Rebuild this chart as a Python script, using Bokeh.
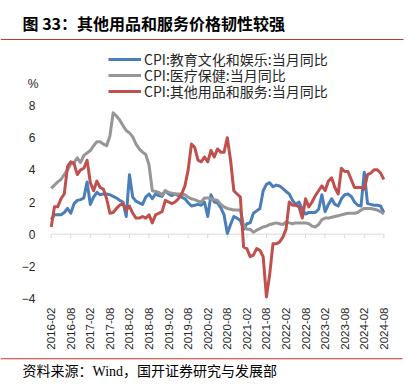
import pandas as pd
from math import pi
from bokeh.plotting import figure
from bokeh.models import (Range1d, FixedTicker, Legend, LegendItem, Label, BoxAnnotation,
                          ColumnDataSource, LinearAxis)
from bokeh.embed import file_html
from bokeh.resources import INLINE

# ---------------- data ----------------
months = [d.strftime("%Y-%m") for d in pd.date_range("2016-02-01", "2024-08-01", freq="MS")]

blue = [0.9, 1.2, 1.2, 1.2, 1.35, 1.6, 1.3, 1.9, 2.1, 2.15,
        2.25, 3.25, 1.85, 2.3, 2.6, 2.45, 2.5, 2.5, 2.45, 2.35,
        2.25, 2.1, 2.0, 1.1, 3.7, 2.3, 2.05, 1.95, 1.85, 2.3,
        2.5, 2.2, 2.5, 2.4, 2.35, 2.7, 2.5, 2.4, 2.5, 2.4,
        2.3, 2.2, 1.95, 1.75, 1.8, 1.85, 1.8, 2.0, 1.1, 2.45,
        2.0, 1.95, 1.65, 1.2, 0.05, 0.6, 1.1, 1.0, 0.85, 0.3,
        0.65, 0.7, 1.3, 1.45, 1.6, 2.7, 3.1, 3.2, 2.95, 3.05,
        3.0, 2.85, 2.65, 2.5, 2.1, 1.85, 2.0, 1.55, 1.25, 1.35,
        1.35, 1.35, 1.55, 2.45, 1.4, 1.85, 2.2, 1.85, 1.75, 2.2,
        2.45, 2.5, 2.35, 2.0, 1.8, 1.75, 3.85, 1.9, 1.85, 1.8,
        1.8, 1.75, 1.35]

gray = [2.85, 3.05, 3.25, 3.4, 3.7, 4.0, 4.35, 4.45, 4.75, 4.45,
        4.9, 5.05, 5.2, 5.5, 5.75, 5.75, 5.6, 5.5, 6.1, 7.55,
        7.35, 7.1, 6.75, 6.45, 6.3, 6.05, 5.6, 5.3, 5.1, 4.95,
        4.3, 2.7, 2.65, 2.6, 2.45, 2.7, 2.6, 2.55, 2.5, 2.5,
        2.5, 2.45, 2.3, 2.2, 2.15, 2.05, 2.0, 2.25, 2.25, 2.2,
        2.15, 2.1, 1.85, 1.7, 1.6, 1.55, 1.5, 1.5, 1.5, 0.55,
        0.3, 0.3, 0.12, 0.25, 0.35, 0.45, 0.5, 0.6, 0.65, 0.7,
        0.65, 0.6, 0.75, 0.7, 0.65, 0.7, 0.7, 0.7, 0.7, 0.65,
        0.5, 0.45, 0.6, 0.9, 1.0, 1.0, 1.05, 1.1, 1.15, 1.2,
        1.25, 1.3, 1.3, 1.3, 1.35, 1.5, 1.6, 1.6, 1.6, 1.55,
        1.5, 1.4, 1.25]

red = [0.45, 1.7, 1.7, 2.2, 2.5, 4.2, 4.5, 4.4, 3.7, 4.0,
       4.1, 4.6, 3.2, 2.7, 3.3, 2.9, 2.8, 2.2, 1.3, 1.35,
       1.6, 1.8, 1.9, 1.5, 1.75, 1.3, 1.0, 1.0, 1.1, 1.0,
       1.2, 0.7, 1.2, 1.3, 1.4, 2.1, 2.0, 1.9, 2.0, 2.2,
       2.5, 3.0, 4.0, 5.6, 5.4, 4.6, 4.5, 4.8, 4.5, 5.2,
       4.8, 5.3, 5.1, 5.1, 6.0, 4.6, 2.7, 2.5, 2.3, -0.8,
       -0.9, -1.4, -1.3, -0.9, -1.0, -1.4, -3.9, -2.5, -0.6, -0.6,
       -0.5, -0.2, 0.3, 2.0, 1.8, 1.8, 1.7, 1.0, 2.2, 1.7,
       2.0, 2.4, 2.7, 3.0, 2.7, 3.3, 3.5, 2.9, 2.5, 4.1,
       3.9, 3.9, 3.4, 2.9, 2.9, 2.9, 2.8, 3.7, 3.8, 4.0,
       4.0, 3.8, 3.4]

series_names = ["CPI:教育文化和娱乐:当月同比", "CPI:医疗保健:当月同比", "CPI:其他用品和服务:当月同比"]
tick_labels = ["2016-02", "2016-08", "2017-02", "2017-08", "2018-02", "2018-08",
               "2019-02", "2019-08", "2020-02", "2020-08", "2021-02", "2021-08",
               "2022-02", "2022-08", "2023-02", "2023-08", "2024-02", "2024-08"]
y_ticks = [-4, -2, 0, 2, 4, 6, 8]

title_text = "图 33：其他用品和服务价格韧性较强"
source_text = "资料来源：Wind，国开证券研究与发展部"

# ---------------- figure ----------------
W, H = 409, 387
x = list(range(len(months)))
tick_idx = [months.index(t) for t in tick_labels]

CJK = "Noto Sans CJK SC"
p = figure(width=W, height=H, output_backend="svg", toolbar_location=None,
           x_range=Range1d(-15.55, 109.87), y_range=Range1d(-9.535, 14.53),
           x_axis_location=None, y_axis_location=None,
           min_border=0, min_border_left=0, min_border_right=0,
           min_border_top=0, min_border_bottom=0)
p.outline_line_color = None
p.grid.visible = False
p.background_fill_color = "white"
p.border_fill_color = "white"

# y axis (placed inside the frame at a fixed location)
yax = LinearAxis(fixed_location=-3.28, ticker=FixedTicker(ticks=y_ticks))
yax.axis_line_color = None
yax.major_tick_line_color = None
yax.minor_tick_line_color = None
yax.major_tick_out = 0
yax.major_label_standoff = 5
yax.major_label_text_font = "Liberation Sans"
yax.major_label_text_font_size = "12px"
yax.major_label_text_color = "#262626"
p.add_layout(yax, "left")

# x axis labels (bottom)
xax = LinearAxis(fixed_location=-4.249, ticker=FixedTicker(ticks=tick_idx))
xax.major_label_overrides = {i: t for i, t in zip(tick_idx, tick_labels)}
xax.axis_line_color = None
xax.major_tick_line_color = None
xax.minor_tick_line_color = None
xax.major_tick_out = 0
xax.major_label_standoff = 5
xax.major_label_orientation = pi / 2
xax.major_label_text_font = "Liberation Sans"
xax.major_label_text_font_size = "11.5px"
xax.major_label_text_color = "#262626"
p.add_layout(xax, "below")

# zero line with small tick marks
p.segment(x0=[x[0]], y0=[0], x1=[x[-1]], y1=[0], line_color="#D9D9D9", line_width=1)
p.segment(x0=tick_idx, y0=[0] * len(tick_idx), x1=tick_idx, y1=[-0.25] * len(tick_idx),
          line_color="#D9D9D9", line_width=1)

colors = ["#4A7EBB", "#969696", "#C0504D"]
renderers = []
for vals, c in zip([blue, gray, red], colors):
    src = ColumnDataSource(dict(x=x, y=vals))
    r = p.line("x", "y", source=src, line_color=c, line_width=3, line_join="round")
    renderers.append(r)

# one legend per row so that row pitch is exact (16px, rows centred at 59/75/91 px)
row_centres = [59, 75, 91]
for n, r, c in zip(series_names, renderers, row_centres):
    lg = Legend(items=[LegendItem(label=n, renderers=[r])],
                location=(108, H - c - 10), orientation="vertical",
                glyph_width=33, glyph_height=16, label_height=16, label_standoff=3,
                spacing=0, padding=0, margin=0, border_line_color=None,
                background_fill_alpha=0,
                label_text_font=CJK, label_text_font_size="14px", label_text_color="#262626")
    p.add_layout(lg, "center")

# title, rules, source, unit
p.add_layout(Label(x=22, y=H - 22, x_units="screen", y_units="screen", text=title_text,
                   text_font=CJK, text_font_size="16px", text_font_style="bold",
                   text_color="#000000", text_baseline="middle", text_align="left"))
p.add_layout(BoxAnnotation(left=0, right=403, bottom=H - 39.6, top=H - 38.6,
                           left_units="screen", right_units="screen",
                           bottom_units="screen", top_units="screen",
                           fill_color="#C0392B", fill_alpha=1, line_color=None))
p.add_layout(BoxAnnotation(left=0, right=402, bottom=H - 358.8, top=H - 357.8,
                           left_units="screen", right_units="screen",
                           bottom_units="screen", top_units="screen",
                           fill_color="#C0392B", fill_alpha=1, line_color=None))
p.add_layout(Label(x=22, y=H - 371, x_units="screen", y_units="screen", text=source_text,
                   text_font="Liberation Serif, Noto Sans CJK SC", text_font_size="14px",
                   text_color="#000000", text_baseline="middle", text_align="left"))
p.add_layout(Label(x=32.5, y=H - 83.5, x_units="screen", y_units="screen", text="%",
                   text_font="Liberation Sans", text_font_size="12px",
                   text_color="#262626", text_baseline="middle", text_align="center"))

open("out.html", "w").write(file_html(p, INLINE))
